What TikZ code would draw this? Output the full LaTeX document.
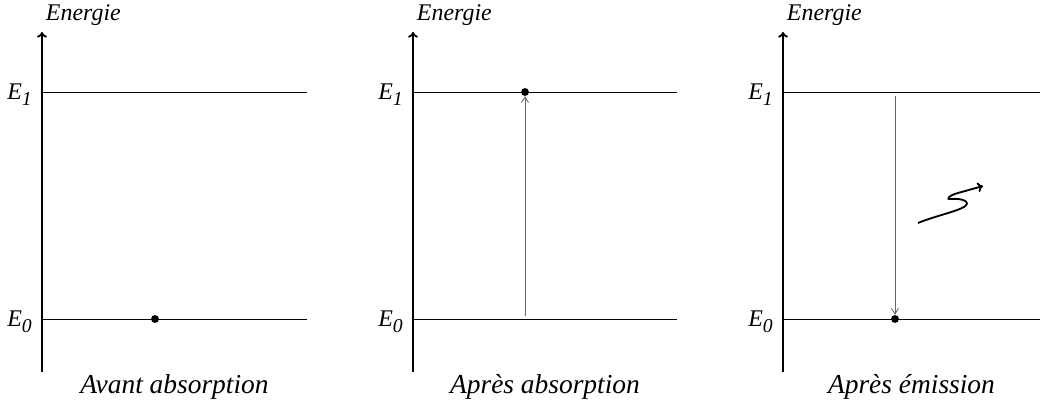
\documentclass[tikz,border=0pt]{standalone}
\usepackage{fontspec}
\setmainfont{Liberation Serif}
\usetikzlibrary{arrows.meta,positioning}
\newcommand{\lvlname}[1]{\textit{E}\raisebox{-0.6ex}{\fontsize{14}{15}\selectfont\textit{#1}}}

\begin{document}
\begin{tikzpicture}[x=0.025cm,y=-0.025cm,
every node/.style={font=\fontsize{17}{20}\selectfont\itshape},
capt/.style={font=\fontsize{19.5}{22}\selectfont\itshape},
axis/.style={line width=1.3pt,-{To[length=4pt,width=7pt]}},
level/.style={line width=0.7pt},
jump/.style={black!60,line width=0.6pt,-{Straight Barb[length=4pt,width=5pt]}},
photon/.style={line width=1.3pt,-{To[length=4pt,width=7pt]}},
dot/.style={circle,fill,inner sep=0pt,minimum size=5.6pt}]
\useasboundingbox (0,0) rectangle (1040,401);

% the three panels
\foreach \p/\x/\r/\txt in {a/42/307/Avant absorption,b/413/677/Après absorption,c/783/1040/Après émission}{
  \coordinate (\p bot) at (\x,372);
  \coordinate (\p top) at (\x,32);
  \coordinate (\p E1) at (\x,92);
  \coordinate (\p E0) at (\x,319);
  \coordinate (\p E1r) at (\r,92);
  \coordinate (\p E0r) at (\r,319);
  \draw[axis] (\p bot)--(\p top);
  \draw[level] (\p E1)--(\p E1r);
  \draw[level] (\p E0)--(\p E0r);
  \node[anchor=base west] (\p en) at (\x-1,21) {Energie};
  \node[anchor=base east,inner sep=0pt] (\p l1) at (\x-10,99) {\lvlname{1}};
  \node[anchor=base east,inner sep=0pt] (\p l0) at (\x-10,326) {\lvlname{0}};
  \node[capt,anchor=base] (\p cap) at ({(\x+\r)/2},393) {\txt};
}

% electrons
\node[dot] (adot) at (155,319) {};
\node[dot] (bdot) at (525,92) {};
\node[dot] (cdot) at (895,319) {};

% transitions
\coordinate (bfrom) at (525,316);
\coordinate (cfrom) at (895,96);
\draw[jump] (bfrom)--(bdot);
\draw[jump] (cfrom)--(cdot);

% emitted photon
\coordinate (wbeg) at (918,223);
\coordinate (wend) at (983,186);
\draw[photon] (wbeg) .. controls (935,216) and (955,212) .. (964,207)
  .. controls (972,202) and (962,198) .. (952,199)
  .. controls (944,200) and (950,195) .. (958,193) -- (wend);
\end{tikzpicture}
\end{document}
